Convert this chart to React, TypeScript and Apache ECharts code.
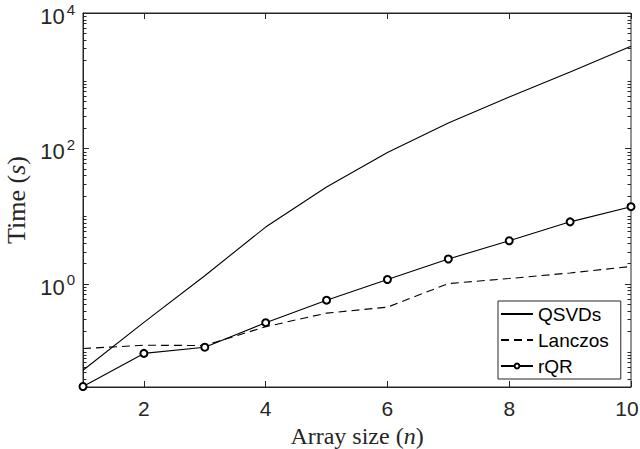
import React, { useEffect, useRef } from "react";
import * as echarts from "echarts";

const arraySizes = [1, 2, 3, 4, 5, 6, 7, 8, 9, 10];
const qsvdsTimes = [0.053, 0.27, 1.32, 6.9, 27, 87, 238, 574, 1350, 3230];
const lanczosTimes = [0.111, 0.124, 0.123, 0.233, 0.37, 0.453, 1.01, 1.2, 1.45, 1.81];
const rqrTimes = [0.0305, 0.094, 0.116, 0.267, 0.574, 1.16, 2.33, 4.33, 8.24, 13.8];
const yMajorTicks = [1, 100, 10000];
const yMin = 0.03;
const yMax = 10000;

const AXIS_COLOR = "#262626";
const SANS = "'Liberation Sans', Arial, Helvetica, sans-serif";
const SERIF = "'Liberation Serif', 'Times New Roman', serif";

function buildTickData() {
  const out: number[][] = [];
  for (let k = -2; k <= 3; k++) {
    for (let m = 1; m <= 9; m++) {
      const v = m * Math.pow(10, k);
      if (v <= yMin || v >= yMax) continue;
      const isMajor = yMajorTicks.some((t) => Math.abs(t - v) / t < 1e-9);
      out.push([1, v, isMajor ? 1 : 0]);
    }
  }
  yMajorTicks.forEach((t) => {
    if (!out.some((d) => Math.abs(d[1] - t) / t < 1e-9)) out.push([1, t, 1]);
  });
  return out;
}

export default function App() {
  const ref = useRef<HTMLDivElement>(null);
  useEffect(() => {
    if (!ref.current) return;
    const chart = echarts.init(ref.current, null, { renderer: "svg" });
    const mk = (xs: number[], ys: number[]) => xs.map((x, i) => [x, ys[i]]);
    const xMax = arraySizes[arraySizes.length - 1];
    const option: any = {
      animation: false,
      backgroundColor: "#ffffff",
      grid: {
        left: 83,
        top: 13,
        right: 9,
        bottom: 62,
        containLabel: false,
        outerBoundsMode: "none",
        show: true,
        borderColor: AXIS_COLOR,
        borderWidth: 1,
        backgroundColor: "transparent",
      },
      legend: {
        data: [
          { name: "QSVDs", itemStyle: { opacity: 0 } },
          { name: "Lanczos", itemStyle: { opacity: 0 } },
          { name: "rQR" },
        ],
        orient: "vertical",
        left: 498,
        top: 301,
        backgroundColor: "#ffffff",
        borderColor: AXIS_COLOR,
        borderWidth: 1,
        borderRadius: 0,
        padding: [3, 12, 3, 2],
        itemGap: 6,
        itemWidth: 32,
        itemHeight: 6,
        textStyle: { fontFamily: SANS, fontSize: 19, color: "#000", lineHeight: 20 },
      },
      xAxis: [
        {
          type: "value",
          min: 1,
          max: 10,
          position: "bottom",
          axisLine: { show: true, lineStyle: { color: AXIS_COLOR, width: 1 } },
          axisTick: { show: true, inside: true, length: 6, lineStyle: { color: AXIS_COLOR } },
          splitLine: { show: false },
          axisLabel: {
            margin: 11,
            fontFamily: SANS,
            fontSize: 21,
            color: AXIS_COLOR,
            formatter: (v: number) => {
              if (Math.abs(v - 1) < 1e-9) return "";
              if (Math.abs(v - xMax) < 1e-9) return "{e|" + v + "}";
              return String(v);
            },
            rich: {
              e: { fontFamily: SANS, fontSize: 21, color: AXIS_COLOR, padding: [0, 8, 0, 0] },
            },
          },
          name: "Array size ({i|n})",
          nameLocation: "middle",
          nameGap: 37,
          nameTextStyle: {
            fontFamily: SERIF,
            fontSize: 24,
            lineHeight: 24,
            color: AXIS_COLOR,
            rich: { i: { fontFamily: SERIF, fontSize: 24, lineHeight: 24, fontStyle: "italic", color: AXIS_COLOR } },
          },
        },
        {
          type: "value",
          min: 1,
          max: 10,
          position: "top",
          axisLine: { show: true, lineStyle: { color: AXIS_COLOR, width: 1 } },
          axisTick: { show: true, inside: true, length: 6, lineStyle: { color: AXIS_COLOR } },
          splitLine: { show: false },
          axisLabel: { show: false },
        },
      ],
      yAxis: [
        {
          type: "log",
          logBase: 10,
          min: yMin,
          max: yMax,
          splitNumber: 5,
          axisLine: { show: true, lineStyle: { color: AXIS_COLOR, width: 1 } },
          axisTick: { show: false },
          splitLine: { show: false },
          axisLabel: {
            margin: 8,
            color: AXIS_COLOR,
            formatter: (v: number) => {
              const e = Math.log10(v);
              const r = Math.round(e);
              if (Math.abs(e - r) > 1e-6) return "";
              if (!yMajorTicks.some((t) => Math.abs(Math.log10(t) - r) < 1e-6)) return "";
              return "{b|10}{s|" + r + "}";
            },
            rich: {
              b: { fontFamily: SANS, fontSize: 22, lineHeight: 23, padding: [7, 0, 0, 0], color: AXIS_COLOR },
              s: { fontFamily: SANS, fontSize: 15, lineHeight: 14, padding: [4, 0, 12, 2], color: AXIS_COLOR },
            },
          },
          name: "Time ({i|s})",
          nameLocation: "middle",
          nameGap: 50,
          nameTextStyle: {
            fontFamily: SERIF,
            fontSize: 26,
            lineHeight: 26,
            color: AXIS_COLOR,
            rich: { i: { fontFamily: SERIF, fontSize: 26, lineHeight: 26, fontStyle: "italic", color: AXIS_COLOR } },
          },
        },
      ],
      series: [
        {
          name: "QSVDs",
          type: "line",
          data: mk(arraySizes, qsvdsTimes),
          symbol: "none",
          lineStyle: { color: "#000", width: 1.1, type: "solid" },
          itemStyle: { color: "#000" },
          z: 3,
        },
        {
          name: "Lanczos",
          type: "line",
          data: mk(arraySizes, lanczosTimes),
          symbol: "none",
          lineStyle: { color: "#000", width: 1.1, type: [8, 5] },
          itemStyle: { color: "#000" },
          z: 3,
        },
        {
          name: "rQR",
          type: "line",
          data: mk(arraySizes, rqrTimes),
          symbol: "emptyCircle",
          symbolSize: 7,
          clip: false,
          lineStyle: { color: "#000", width: 1.1 },
          itemStyle: { color: "#000", borderColor: "#000", borderWidth: 1.1 },
          z: 4,
        },
        {
          name: "yTicks",
          type: "custom",
          silent: true,
          clip: false,
          z: 2,
          data: buildTickData(),
          renderItem: (params: any, api: any) => {
            const v = api.value(1);
            const major = api.value(2) === 1;
            const pt = api.coord([1, v]);
            const cs = params.coordSys;
            const len = major ? 6 : 3.5;
            const y = Math.round(pt[1]) + 0.5;
            const st = { stroke: AXIS_COLOR, lineWidth: 1 };
            return {
              type: "group",
              children: [
                { type: "line", shape: { x1: cs.x, y1: y, x2: cs.x + len, y2: y }, style: st },
                { type: "line", shape: { x1: cs.x + cs.width - len, y1: y, x2: cs.x + cs.width, y2: y }, style: st },
              ],
            };
          },
        },
      ],
    };
    chart.setOption(option);
    return () => chart.dispose();
  }, []);
  return <div ref={ref} style={{ width: 640, height: 449, position: "absolute", left: 0, top: 0 }} />;
}
